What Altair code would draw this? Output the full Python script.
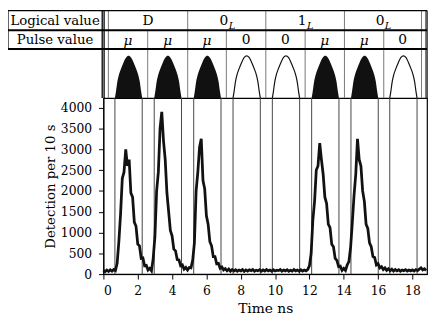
import altair as alt
import pandas as pd

# ---------------- data ----------------
# detection counts per 10 s, sampled every 0.1 ns from 0.0 to 18.8 ns
counts = [
    95, 60, 100, 65, 105, 70, 110, 85, 260, 780,            # 0.0 - 0.9
    1450, 2300, 2450, 3000, 2600, 2750, 1950, 1850, 1250, 1150,  # 1.0 - 1.9
    720, 680, 380, 390, 200, 210, 100, 140, 80, 380,        # 2.0 - 2.9
    900, 2000, 2450, 3500, 3900, 3200, 2750, 1950, 1500, 1050,  # 3.0 - 3.9
    920, 600, 560, 350, 340, 200, 220, 120, 160, 100,       # 4.0 - 4.9
    160, 150, 330, 750, 2000, 2450, 3050, 3250, 2250, 2050,  # 5.0 - 5.9
    1400, 1200, 780, 680, 420, 420, 250, 260, 140, 170,     # 6.0 - 6.9
    100, 130, 80, 120, 70, 110, 75, 105, 70, 100,           # 7.0 - 7.9
    80, 110, 65, 100, 75, 105, 85, 110, 70, 95,             # 8.0 - 8.9
    80, 105, 70, 100, 75, 110, 80, 100, 70, 105,            # 9.0 - 9.9
    75, 95, 85, 110, 70, 100, 80, 105, 70, 95,              # 10.0 - 10.9
    75, 110, 80, 100, 70, 105, 75, 100, 80, 110,            # 11.0 - 11.9
    200, 500, 1300, 1750, 2500, 2600, 3150, 2750, 2400, 1850,  # 12.0 - 12.9
    1700, 1200, 1120, 720, 660, 380, 330, 180, 190, 90,     # 13.0 - 13.9
    140, 90, 220, 300, 650, 1250, 1900, 2400, 3250, 2750,   # 14.0 - 14.9
    2600, 2000, 1750, 1200, 1100, 750, 660, 420, 400, 220,  # 15.0 - 15.9
    250, 150, 180, 110, 150, 90, 130, 80, 120, 75,          # 16.0 - 16.9
    110, 80, 105, 70, 100, 85, 110, 75, 100, 80,            # 17.0 - 17.9
    105, 75, 110, 85, 120, 150, 100, 130, 90,               # 18.0 - 18.8
]
times = [round(i * 0.1, 1) for i in range(len(counts))]

pulse_start = [0.67, 2.96, 5.26, 7.55, 9.84, 12.13, 14.42, 16.68]
pulse_width = 1.59
pulse_values = ["μ", "μ", "μ", "0", "0", "μ", "μ", "0"]
slot_bounds = [0.29, 2.58, 4.91, 7.16, 9.46, 11.75, 14.04, 16.33, 18.53]
logical_main = ["D", "0", "1", "0"]
logical_sub = ["", "L", "L", "L"]
row_labels = ["Logical value", "Pulse value"]
x_ticks = [0, 2, 4, 6, 8, 10, 12, 14, 16, 18]
y_ticks = [0, 500, 1000, 1500, 2000, 2500, 3000, 3500, 4000]
# pulse shape (fraction of pulse window, relative height)
arch_u = [0, 0.04, 0.09, 0.15, 0.22, 0.32, 0.41, 0.5, 0.59, 0.68, 0.78, 0.85, 0.91, 0.96, 1]
arch_h = [0, 0.16, 0.39, 0.56, 0.69, 0.85, 0.96, 1.0, 0.96, 0.85, 0.69, 0.56, 0.39, 0.16, 0]

# ---------------- layout constants ----------------
FONT = "DejaVu Serif"
X_DOM = [0, 18.85]
Y_DOM = [0, 4230]
W, H = 329, 179
HEAD = 89            # header height above the plot (px units of header scale)
ROW_SEP, ROW2_BOT = 69, 50
ARCH_H = 43
LBL_L = -5.56
DBL_A, DBL_B = -0.07, 0.04
R_A, R_B = 18.76, 18.85

hscale = alt.Scale(domain=[0, HEAD], range=[0, -HEAD], zero=False, nice=False)
xs = alt.Scale(domain=X_DOM, nice=False, zero=False)
XAXIS = alt.Axis(values=x_ticks, title="Time ns", grid=False, tickSize=5,
                 labelPadding=6, titlePadding=4, labelFontSize=12.5,
                 titleFontSize=14, format="d")


def hy(field):
    return alt.Y(field, type="quantitative", scale=hscale, axis=None)


def hx(field):
    return alt.X(field, type="quantitative", scale=xs, axis=XAXIS)


# ---------------- main trace ----------------
trace_df = pd.DataFrame({"t": times, "c": counts})
trace = alt.Chart(trace_df).mark_line(color="#111111", strokeWidth=2.8).encode(
    x=hx("t"),
    y=alt.Y("c:Q", scale=alt.Scale(domain=Y_DOM, nice=False, zero=False),
            axis=alt.Axis(values=y_ticks, title="Detection per 10 s", grid=False,
                          tickSize=5, labelPadding=7, titlePadding=3,
                          labelFontSize=12.5, titleFontSize=13.5, format="d")),
)

edges = pulse_start + [s + pulse_width for s in pulse_start]
vlines = alt.Chart(pd.DataFrame({"t": edges})).mark_rule(color="#444444", strokeWidth=1).encode(
    x=hx("t")
)

# ---------------- header frame lines ----------------
vrows = [
    (LBL_L, ROW2_BOT, HEAD, "black", 1.3),
    (DBL_A, 0, HEAD, "black", 1.3),
    (DBL_B, 0, HEAD, "black", 1.3),
    (R_A, 0, HEAD, "#777777", 1),
    (R_B, 0, HEAD, "black", 1.3),
]
for i, b in enumerate(slot_bounds):
    vrows.append((b, 0, HEAD if i % 2 == 0 else ROW_SEP, "#777777", 1))
vdf = pd.DataFrame(vrows, columns=["x", "y0", "y1", "c", "w"])
hdf = pd.DataFrame([
    (LBL_L, R_B, HEAD, "black", 1.3),
    (LBL_L, R_B, ROW_SEP, "black", 2),
    (LBL_L, R_B, ROW2_BOT, "black", 2),
], columns=["x0", "x1", "y", "c", "w"])

vhead = alt.Chart(vdf).mark_rule().encode(
    x=hx("x"), y=hy("y0"), y2="y1",
    color=alt.Color("c:N", scale=None), strokeWidth=alt.StrokeWidth("w:Q", scale=None),
)
hhead = alt.Chart(hdf).mark_rule().encode(
    x=hx("x0"), x2="x1", y=hy("y"),
    color=alt.Color("c:N", scale=None), strokeWidth=alt.StrokeWidth("w:Q", scale=None),
)

# ---------------- pulse arches ----------------
arows = []
for k, (s, v) in enumerate(zip(pulse_start, pulse_values)):
    for u, h in zip(arch_u, arch_h):
        arows.append({"k": k, "v": v, "x": s + u * pulse_width, "h": h * ARCH_H, "b": 0})
adf = pd.DataFrame(arows)
filled = alt.Chart(adf).transform_filter(alt.datum.v == "μ").mark_area(
    color="#111111", interpolate="monotone").encode(
    x=hx("x"), y=hy("h"), y2="b", detail="k:N")
hollow = alt.Chart(adf).transform_filter(alt.datum.v == "0").mark_line(
    color="#111111", strokeWidth=1.2, interpolate="monotone").encode(
    x=hx("x"), y=hy("h"), detail="k:N")

# ---------------- header texts ----------------
lab_df = pd.DataFrame({"x": [(LBL_L + DBL_A) / 2] * 2,
                       "y": [(ROW_SEP + HEAD) / 2, (ROW2_BOT + ROW_SEP) / 2],
                       "txt": row_labels})
labels = alt.Chart(lab_df).mark_text(font=FONT, fontSize=13.5, color="black",
                                     baseline="middle", dy=1).encode(
    x=hx("x"), y=hy("y"), text="txt:N")

lrows = []
for i, (m, sb) in enumerate(zip(logical_main, logical_sub)):
    c = (slot_bounds[2 * i] + slot_bounds[2 * i + 2]) / 2
    lrows.append({"xm": c - (0.17 if sb else 0), "xs": c + 0.3, "m": m, "s": sb,
                  "y": (ROW_SEP + HEAD) / 2})
ldf = pd.DataFrame(lrows)
lmain = alt.Chart(ldf).mark_text(font=FONT, fontSize=14, color="black",
                                 baseline="middle", dy=1).encode(
    x=hx("xm"), y=hy("y"), text="m:N")
lsub = alt.Chart(ldf).mark_text(font=FONT, fontSize=10, fontStyle="italic", color="black",
                                baseline="middle", dy=6).encode(
    x=hx("xs"), y=hy("y"), text="s:N")

prow = pd.DataFrame({"x": [(slot_bounds[i] + slot_bounds[i + 1]) / 2 for i in range(8)],
                     "v": pulse_values, "y": [(ROW2_BOT + ROW_SEP) / 2] * 8})
pmu = alt.Chart(prow).transform_filter(alt.datum.v == "μ").mark_text(
    font=FONT, fontSize=14, fontStyle="italic", color="black", baseline="middle", dy=2).encode(
    x=hx("x"), y=hy("y"), text="v:N")
pzero = alt.Chart(prow).transform_filter(alt.datum.v == "0").mark_text(
    font=FONT, fontSize=14, color="black", baseline="middle", dy=1).encode(
    x=hx("x"), y=hy("y"), text="v:N")

chart = alt.layer(
    vlines, trace, vhead, hhead, filled, hollow, labels, lmain, lsub, pmu, pzero
).resolve_scale(y="independent").properties(
    width=W, height=H,
    autosize=alt.AutoSizeParams(type="none"),
    padding={"left": 97, "top": 89, "right": 1, "bottom": 42},
).configure_view(stroke="black", strokeWidth=1.2).configure_axis(
    labelFont=FONT, titleFont=FONT, labelColor="black", titleColor="black",
    tickColor="black", domainColor="black", titleFontWeight="normal",
)

chart.save("out.html", embed_options={"renderer": "svg", "actions": False})
